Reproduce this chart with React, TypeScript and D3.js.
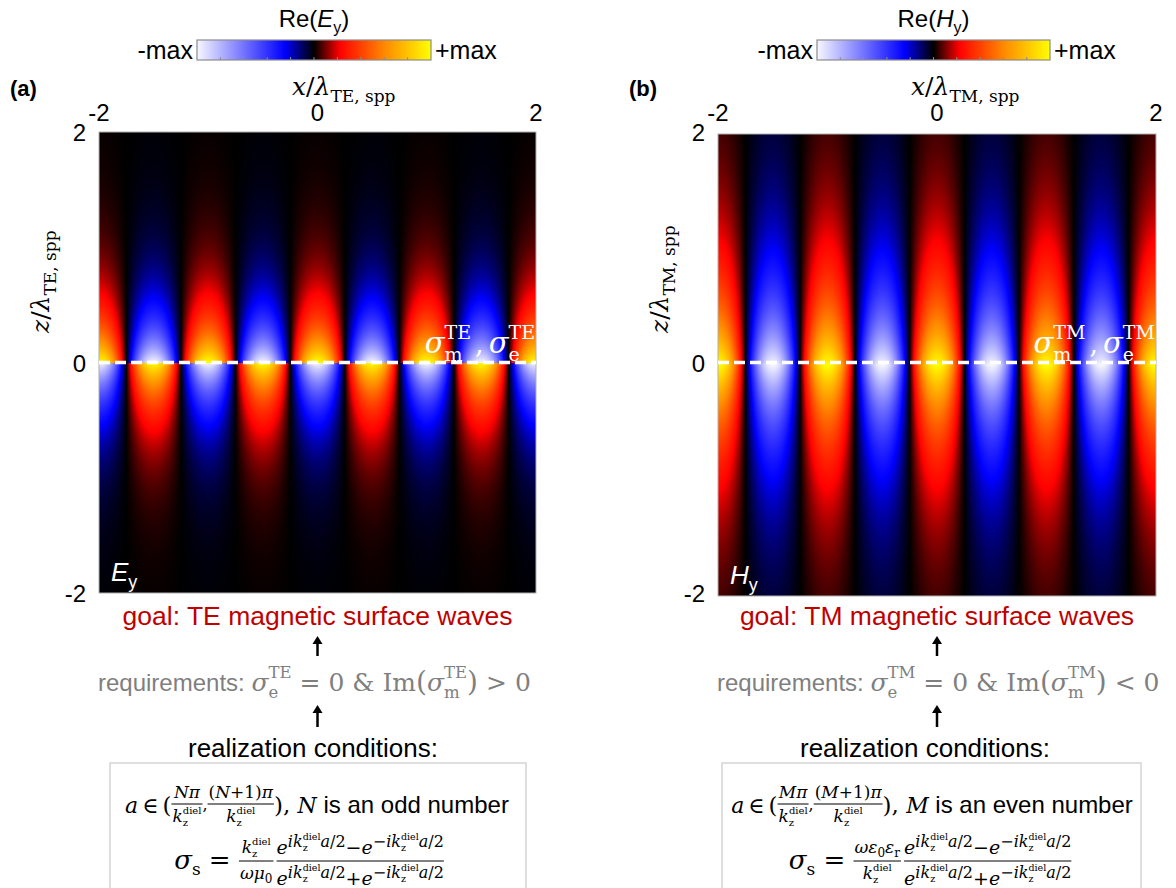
import React, { useMemo } from 'react';
import * as d3 from 'd3';

// ---- values ----
const xTicks = [-2, 0, 2];
const zTicks = [2, 0, -2];
// crest positions of the standing surface wave along x (units of lambda_spp)
const crestX = [-2, -1.5, -1, -0.5, 0, 0.5, 1, 1.5, 2];
// sign of Re(field) on each crest just above the sheet
const crestSignTE = [1, -1, 1, -1, 1, -1, 1, -1, 1];
const crestSignTM = [1, -1, 1, -1, 1, -1, 1, -1, 1];
// sign of the field below the sheet relative to above (TE odd, TM even)
const mirrorTE = -1;
const mirrorTM = 1;
// decay constant away from the sheet (per lambda_spp)
const decayTE = 2.5;
const decayTM = 1.4;
// colour map (-max ... +max)
const cmapStops = [-1, -0.25, 0, 0.22, 0.6, 1];
const cmapColors = ['#f7f7ff', '#0000ff', '#000000', '#ff0000', '#ff8800', '#ffff00'];
const cbarLabels = ['-max', '+max'];
const cbarTicks = [0.1, 0.2, 0.3, 0.4, 0.5, 0.6, 0.7, 0.8, 0.9];

const SERIF = "'DejaVu Serif', serif";
const SANS = "'Liberation Sans', Arial, sans-serif";
const RED = '#c00000';
const GRAY = '#7f7f7f';

const mctx = document.createElement('canvas').getContext('2d')!;
function tw(t: string, size: number, family = SERIF, italic = false) {
  mctx.font = `${italic ? 'italic ' : ''}${size}px ${family}`;
  return mctx.measureText(t).width;
}

type Seg = { t: string; s?: number; y?: number; it?: boolean; dx?: number; f?: string };

// sub- and superscript stacked on the same spot
function stack(sub: string, sup: string, s: number, base: number, dn: number, up: number, f = SERIF): Seg[] {
  return [
    { t: sub, s, y: base + dn, f },
    { t: sup, s, y: base - up, f, dx: -tw(sub, s, f) },
  ];
}

function segsWidth(segs: Seg[], size: number, family: string) {
  return d3.sum(segs, (g) => tw(g.t, g.s ?? size, g.f ?? family, !!g.it) + (g.dx ?? 0));
}

function Rich({ x, y, segs, anchor = 'start', fill = '#000', size = 24, family = SERIF, transform }: any) {
  let prev = 0;
  return (
    <text x={x} y={y} textAnchor={anchor} fill={fill} fontSize={size} fontFamily={family}
      style={{ whiteSpace: 'pre' }} transform={transform}>
      {segs.map((g: Seg, i: number) => {
        const sh = g.y ?? 0;
        const dy = sh - prev;
        prev = sh;
        return (
          <tspan key={i} dy={dy || undefined} dx={g.dx} fontSize={g.s}
            fontStyle={g.it ? 'italic' : undefined} fontFamily={g.f}>{g.t}</tspan>
        );
      })}
    </text>
  );
}

type Item =
  | { kind: 'text'; segs: Seg[]; size: number; family?: string; shift?: number }
  | { kind: 'frac'; num: Seg[]; den: Seg[]; size: number; numY: number; denY: number; pad?: number };

// lays out a formula line: plain runs and fractions side by side, centred at cx
function Formula({ cx, y, bar, items }: { cx: number; y: number; bar: number; items: Item[] }) {
  const widths = items.map((it) =>
    it.kind === 'text'
      ? segsWidth(it.segs, it.size, it.family ?? SERIF)
      : Math.max(segsWidth(it.num, it.size, SERIF), segsWidth(it.den, it.size, SERIF)) + 2 * (it.pad ?? 1)
  );
  let x = cx - d3.sum(widths) / 2;
  const out: any[] = [];
  items.forEach((it, i) => {
    const w = widths[i];
    if (it.kind === 'text') {
      out.push(<Rich key={i} x={x} y={y + (it.shift ?? 0)} segs={it.segs} size={it.size} family={it.family ?? SERIF} />);
    } else {
      const mid = x + w / 2;
      out.push(
        <g key={i}>
          <Rich x={mid} y={y - bar - it.numY} segs={it.num} size={it.size} anchor="middle" />
          <line x1={x} x2={x + w} y1={y - bar} y2={y - bar} stroke="#000" strokeWidth={1} />
          <Rich x={mid} y={y - bar + it.denY} segs={it.den} size={it.size} anchor="middle" />
        </g>
      );
    }
    x += w;
  });
  return <g>{out}</g>;
}

// field profile along x built from the crest list
function profile(x: number, signs: number[]) {
  const i = Math.max(0, Math.min(crestX.length - 2, d3.bisectRight(crestX, x) - 1));
  const t = (x - crestX[i]) / (crestX[i + 1] - crestX[i]);
  const c = Math.cos(Math.PI * t);
  return (signs[i] * (1 + c)) / 2 + (signs[i + 1] * (1 - c)) / 2;
}

const colour = d3.scaleLinear<string>().domain(cmapStops).range(cmapColors).interpolate(d3.interpolateRgb).clamp(true);

function fieldImage(signs: number[], mirror: number, decay: number, w: number, h: number) {
  const canvas = document.createElement('canvas');
  canvas.width = w;
  canvas.height = h;
  const ctx = canvas.getContext('2d')!;
  const img = ctx.createImageData(w, h);
  const xs = d3.scaleLinear().domain([0, w]).range([-2, 2]);
  const zs = d3.scaleLinear().domain([0, h]).range([2, -2]);
  const lut = d3.range(2001).map((i) => d3.rgb(colour(i / 1000 - 1)));
  const prof = d3.range(w).map((px) => profile(xs(px + 0.5), signs));
  for (let py = 0; py < h; py++) {
    const z = zs(py + 0.5);
    const env = Math.exp(-decay * Math.abs(z)) * (z < 0 ? mirror : 1);
    for (let px = 0; px < w; px++) {
      const v = prof[px] * env;
      const c = lut[Math.round((v + 1) * 1000)];
      const k = (py * w + px) * 4;
      img.data[k] = c.r;
      img.data[k + 1] = c.g;
      img.data[k + 2] = c.b;
      img.data[k + 3] = 255;
    }
  }
  ctx.putImageData(img, 0, 0);
  return canvas.toDataURL();
}

const kStack = (s: number, ss: number): Seg[] => [{ t: 'k', it: true, s }, ...stack('z', 'diel', ss, 0, 4, 8), { t: '', s, y: 0 }];

function expTerm(sign: string): Seg[] {
  const E = 19, X = 16, D = 9.5, up = -7;
  return [
    { t: 'e', it: true, s: E, y: 0 },
    { t: sign + 'i', it: true, s: X, y: up },
    { t: 'k', it: true, s: X, y: up },
    ...stack('z', 'diel', D, up, 4, 7),
    { t: 'a', it: true, s: X, y: up },
    { t: '/2', s: X, y: up },
  ];
}

function Panel(p: any) {
  const L = p.layout;
  const xScale = d3.scaleLinear().domain([-2, 2]).range([L.hx0, L.hx1]);
  const zAxis = d3.scaleLinear().domain([2, -2]).range([L.ay0, L.ay1]);
  const w = Math.round(L.hx1 - L.hx0);
  const h = Math.round(L.hy1 - L.hy0);
  const url = useMemo(() => fieldImage(p.signs, p.mirror, p.decay, w, h), [w, h]);
  const cb = d3.scaleLinear().domain([0, 1]).range([L.cb0, L.cb1]);
  const gid = 'cmap' + p.letter;
  const cx = (L.hx0 + L.hx1) / 2;
  const mode = p.mode;
  const letterN = p.letterN;

  const arrow = (y0: number, y1: number) => (
    <g>
      <line x1={cx} x2={cx} y1={y0} y2={y1 + 6} stroke="#000" strokeWidth={2.5} />
      <path d={`M${cx - 5},${y1 + 8} L${cx},${y1} L${cx + 5},${y1 + 8} Z`} fill="#000" />
    </g>
  );

  const sigmaPair: Seg[] = [
    { t: 'σ', it: true, s: 29 },
    ...stack('m', mode, 19, 0, 8, 14),
    { t: ',', s: 27, y: 0, dx: 4 },
    { t: 'σ', it: true, s: 29, dx: 5 },
    ...stack('e', mode, 19, 0, 8, 14),
  ];

  const req: Seg[] = [
    { t: 'requirements: ', f: SANS, s: 24 },
    { t: 'σ', it: true, s: 25 },
    ...stack('e', mode, 16.5, 0, 7, 13),
    { t: ' = 0 & Im', s: 25, y: 0 },
    { t: '(', s: 28 },
    { t: 'σ', it: true, s: 25 },
    ...stack('m', mode, 16.5, 0, 7, 13),
    { t: ')', s: 28, y: 0 },
    { t: p.ineq, s: 25 },
  ];

  const line1: Item[] = [
    { kind: 'text', size: 22, segs: [{ t: 'a', it: true }, { t: '∈', dx: 4 }, { t: '(', dx: 4, s: 23 }] },
    { kind: 'frac', size: 17, numY: 6, denY: 18, num: [{ t: letterN + 'π', it: true }], den: kStack(17, 10) },
    { kind: 'text', size: 16, segs: [{ t: ',' }], shift: -3 },
    { kind: 'frac', size: 17, numY: 6, denY: 18, num: [{ t: '(' }, { t: letterN, it: true }, { t: '+1)' }, { t: 'π', it: true }], den: kStack(17, 10) },
    { kind: 'text', size: 22, segs: [{ t: '), ', s: 23 }, { t: letterN, it: true }] },
    { kind: 'text', size: 24, family: SANS, segs: [{ t: p.parity }] },
  ];

  const line2: Item[] = [
    { kind: 'text', size: 26, segs: [{ t: 'σ', it: true }, { t: 's', s: 17, y: 6 }, { t: ' = ', y: 0 }] },
    { kind: 'frac', size: 17, numY: 8, denY: 18, num: p.coefNum, den: p.coefDen },
    { kind: 'text', size: 10, segs: [{ t: ' ' }] },
    {
      kind: 'frac', size: 19, numY: 7, denY: 24, pad: 0,
      num: [...expTerm(''), { t: '−', s: 19, y: 0 }, ...expTerm('−')],
      den: [...expTerm(''), { t: '+', s: 19, y: 0 }, ...expTerm('−')],
    },
  ];

  return (
    <g>
      <defs>
        <linearGradient id={gid} x1="0" x2="1" y1="0" y2="0">
          {cmapStops.map((s, i) => (
            <stop key={i} offset={(s + 1) / 2} stopColor={cmapColors[i]} />
          ))}
        </linearGradient>
      </defs>
      {/* colour bar */}
      <Rich x={(L.cb0 + L.cb1) / 2} y={27} anchor="middle" family={SANS} size={24}
        segs={[{ t: 'Re(' }, { t: p.field, it: true }, { t: 'y', s: 16, y: 6 }, { t: ')', y: 0 }]} />
      <rect x={L.cb0} y={40} width={L.cb1 - L.cb0} height={20} fill={`url(#${gid})`} stroke="#8c8c8c" strokeWidth={1.2} />
      {cbarTicks.map((t) => (
        <line key={t} x1={cb(t)} x2={cb(t)} y1={57} y2={60} stroke="#8c8c8c" strokeWidth={1} />
      ))}
      <text x={L.cb0 - 4} y={59} textAnchor="end" fontFamily={SANS} fontSize={25}>{cbarLabels[0]}</text>
      <text x={L.cb1 + 4} y={59} textAnchor="start" fontFamily={SANS} fontSize={25}>{cbarLabels[1]}</text>

      {/* panel letter and axis labels */}
      <text x={L.hx0 - 89} y={96} fontFamily={SANS} fontSize={22} fontWeight="bold">{`(${p.letter})`}</text>
      <Rich x={L.hx0 + 193} y={95} size={25}
        segs={[{ t: 'x', it: true }, { t: '/' }, { t: 'λ', it: true }, { t: mode + ', spp', s: 17, y: 7 }]} />
      {xTicks.map((t) => (
        <text key={t} x={xScale(t)} y={121} textAnchor="middle" fontFamily={SANS} fontSize={24}>{t}</text>
      ))}
      {zTicks.map((t) => (
        <text key={t} x={L.hx0 - 13} y={zAxis(t) + 9} textAnchor="end" fontFamily={SANS} fontSize={24}>{t}</text>
      ))}
      <Rich x={0} y={0} size={25} transform={`translate(${L.hx0 - 50},${333}) rotate(-90)`}
        segs={[{ t: 'z', it: true }, { t: '/' }, { t: 'λ', it: true }, { t: mode + ', spp', s: 17, y: 7 }]} />

      {/* field map */}
      <image href={url} x={L.hx0} y={L.hy0} width={w} height={h} preserveAspectRatio="none" />
      <rect x={L.hx0} y={L.hy0} width={w} height={h} fill="none" stroke="#b0b0b0" strokeWidth={1} />
      <line x1={L.hx0} x2={L.hx1} y1={zAxis(0)} y2={zAxis(0)} stroke="#fff" strokeWidth={3.5} strokeDasharray="11 5" />
      <Rich x={L.hx1 - 1} y={zAxis(0) - 10} anchor="end" fill="#fff" segs={sigmaPair} />
      <Rich x={L.hx0 + 12} y={L.hy1 - 12} fill="#fff" family={SANS} size={26}
        segs={[{ t: p.field, it: true }, { t: 'y', s: 18, y: 7 }]} />

      {/* goal / requirement chain */}
      <text x={cx} y={625} textAnchor="middle" fontFamily={SANS} fontSize={26.5} fill={RED}>{p.goal}</text>
      {arrow(656, 636)}
      <Rich x={L.reqX} y={691} fill={GRAY} segs={req} />
      {arrow(727, 705)}
      <text x={L.realCx} y={757} textAnchor="middle" fontFamily={SANS} fontSize={26}>realization conditions:</text>
      <rect x={L.box0} y={763} width={L.box1 - L.box0} height={140} fill="#fff" stroke="#d4d4d4" strokeWidth={1.5} />
      <Formula cx={L.l1cx} y={813} bar={9} items={line1} />
      <Formula cx={L.l2cx} y={869} bar={8} items={line2} />
    </g>
  );
}

const layoutA = { hx0: 99, hx1: 536, hy0: 132, hy1: 593, ay0: 132, ay1: 593, cb0: 197, cb1: 431, reqX: 98, realCx: 313, box0: 110, box1: 526, l1cx: 317, l2cx: 309 };
const layoutB = { hx0: 718, hx1: 1156, hy0: 134, hy1: 596, ay0: 132, ay1: 593, cb0: 817, cb1: 1050, reqX: 717, realCx: 925, box0: 722, box1: 1141, l1cx: 932, l2cx: 930 };

export default function App() {
  return (
    <svg width={1176} height={888} style={{ position: 'absolute', left: 0, top: 0, background: '#fff' }}>
      <rect width={1176} height={888} fill="#fff" />
      <Panel letter="a" field="E" mode="TE" letterN="N" signs={crestSignTE} mirror={mirrorTE} decay={decayTE}
        layout={layoutA} goal="goal: TE magnetic surface waves" ineq=" > 0" parity=" is an odd number"
        coefNum={kStack(17, 10)} coefDen={[{ t: 'ωμ', it: true }, { t: '0', s: 12, y: 4 }, { t: '', y: 0 }]} />
      <Panel letter="b" field="H" mode="TM" letterN="M" signs={crestSignTM} mirror={mirrorTM} decay={decayTM}
        layout={layoutB} goal="goal: TM magnetic surface waves" ineq=" < 0" parity=" is an even number"
        coefNum={[{ t: 'ωε', it: true }, { t: '0', s: 12, y: 4 }, { t: 'ε', it: true, y: 0 }, { t: 'r', s: 12, y: 4 }, { t: '', y: 0 }]}
        coefDen={kStack(17, 10)} />
    </svg>
  );
}
